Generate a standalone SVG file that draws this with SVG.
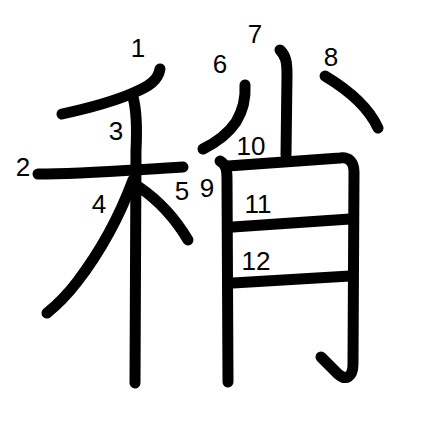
<svg xmlns="http://www.w3.org/2000/svg" width="447" height="447" viewBox="0 0 447 447">
<style>
.s{fill:none;stroke:#000;stroke-width:11;stroke-linecap:round;stroke-linejoin:round}
.n{font-family:"Liberation Sans",Arial,sans-serif;font-size:26px;fill:#000;text-anchor:middle}
</style>
<rect width="447" height="447" fill="#fff"/>
<g id="strokes">
<path id="s1" class="s" d="M160,69 C158,80 150,86 133,93 C110,103 85,109 62,114"/>
<path id="s2" class="s" d="M38,174 C80,174 130,170 183,167"/>
<path id="s3" class="s" d="M133,97 C137,112 137,130 136,150 L135,383"/>
<path id="s4" class="s" d="M133,180 C120,215 100,252 77,282 C67,295 57,305 47,313"/>
<path id="s5" class="s" d="M139,187 C158,200 175,218 188,240"/>
<path id="s6" class="s" d="M245,85 C246,100 242,112 236,122 C228,134 215,143 203,149"/>
<path id="s7" class="s" d="M280,50 C286,56 287,62 287,75 L286,155"/>
<path id="s8" class="s" d="M325,76 C345,88 368,106 378,128"/>
<path id="s9" class="s" d="M220,161 C225,164 227,168 227,178 L228,382"/>
<path id="s10" class="s" d="M228,166 L340,158 C349,157 354,162 354,172 L353,364 C353,377 346,381 338,374 L321,357"/>
<path id="s11" class="s" d="M233,227 L350,219"/>
<path id="s12" class="s" d="M233,283 L350,276"/>
</g>
<g id="labels">
<text class="n" x="138" y="57">1</text>
<text class="n" x="23" y="176">2</text>
<text class="n" x="116" y="140">3</text>
<text class="n" x="99" y="213">4</text>
<text class="n" x="182" y="200">5</text>
<text class="n" x="220" y="73">6</text>
<text class="n" x="255" y="43">7</text>
<text class="n" x="331" y="66">8</text>
<text class="n" x="207" y="197">9</text>
<text class="n" x="251" y="155">10</text>
<text class="n" x="258" y="213">11</text>
<text class="n" x="256" y="270">12</text>
</g>
</svg>
